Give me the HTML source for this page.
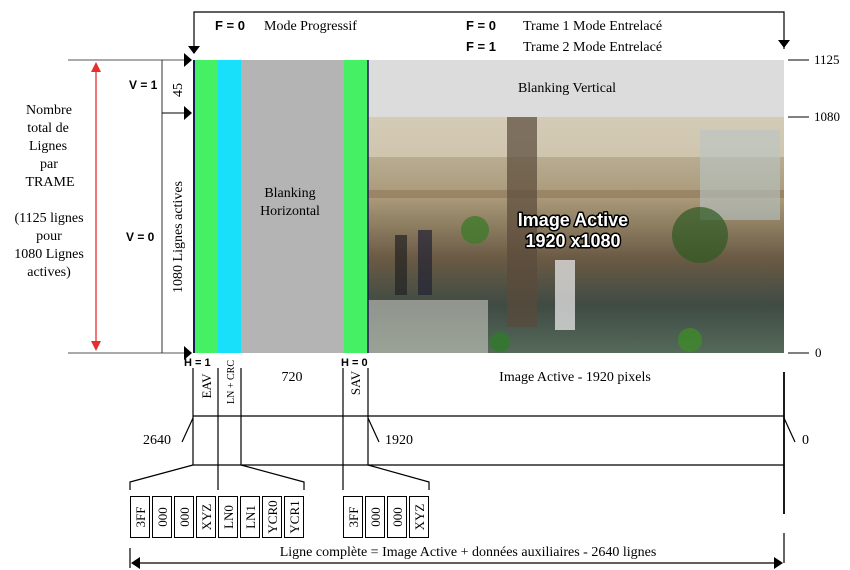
<!DOCTYPE html>
<html><head><meta charset="utf-8"><style>
html,body{margin:0;padding:0;background:#fff;}
svg{display:block;}
.t{font-family:"Liberation Serif",serif;font-size:14px;fill:#000;}
.s{font-family:"Liberation Serif",serif;font-size:13px;fill:#000;}
.b{font-family:"Liberation Sans",sans-serif;font-weight:bold;font-size:12px;fill:#000;}
.il{font-family:"Liberation Sans",sans-serif;font-weight:bold;font-size:18px;fill:#fff;stroke:#000;stroke-width:3;paint-order:stroke;stroke-linejoin:round;}
</style></head><body>
<svg width="850" height="570" viewBox="0 0 850 570" xmlns="http://www.w3.org/2000/svg">
<defs>
<linearGradient id="img" x1="0" y1="0" x2="0" y2="1">
<stop offset="0" stop-color="#c9bfa8"/><stop offset="0.35" stop-color="#a89878"/>
<stop offset="0.6" stop-color="#6a5a44"/><stop offset="0.8" stop-color="#3f4b44"/><stop offset="1" stop-color="#556a5a"/>
</linearGradient>
</defs>
<polyline points="194,49 194,12 784,12 784,49" fill="none" stroke="#000" stroke-width="1.2"/>
<polygon points="188,46 200,46 194,54" fill="#000"/>
<polygon points="778,40 790,40 784,48" fill="#000"/>
<text class="b" x="215" y="30" style="font-size:13px">F = 0</text>
<text class="t" x="264" y="30">Mode Progressif</text>
<text class="b" x="466" y="30" style="font-size:13px">F = 0</text>
<text class="t" x="523" y="30">Trame 1 Mode Entrelacé</text>
<text class="b" x="466" y="51" style="font-size:13px">F = 1</text>
<text class="t" x="523" y="51">Trame 2 Mode Entrelacé</text>

<rect x="194" y="60" width="24" height="293" fill="#46f064"/>
<rect x="218" y="60" width="23" height="293" fill="#18e0fa"/>
<rect x="241" y="60" width="103" height="293" fill="#b3b4b3"/>
<rect x="344" y="60" width="24" height="293" fill="#46f064"/>
<rect x="368" y="60" width="416" height="57" fill="#dcdcdc"/>
<rect x="368" y="117" width="416" height="236" fill="url(#img)"/>
<rect x="368" y="117" width="416" height="40" fill="#d8d0bc" opacity="0.7"/>
<rect x="368" y="190" width="416" height="8" fill="#8a7050" opacity="0.5"/>
<rect x="507" y="117" width="30" height="210" fill="#5a4a3a" opacity="0.7"/>
<rect x="700" y="130" width="80" height="90" fill="#b8c4c4" opacity="0.6"/>
<rect x="368" y="300" width="120" height="53" fill="#c8c8c0" opacity="0.6"/>
<rect x="395" y="235" width="12" height="60" fill="#222" opacity="0.7"/>
<rect x="418" y="230" width="14" height="65" fill="#223" opacity="0.7"/>
<circle cx="475" cy="230" r="14" fill="#3f7a2a" opacity="0.8"/>
<circle cx="700" cy="235" r="28" fill="#2f5a22" opacity="0.7"/>
<circle cx="500" cy="342" r="10" fill="#2f7a2a" opacity="0.8"/>
<circle cx="690" cy="340" r="12" fill="#3f8a2a" opacity="0.8"/>
<rect x="555" y="260" width="20" height="70" fill="#ddd" opacity="0.8"/>
<line x1="194" y1="60" x2="194" y2="353" stroke="#1a1a50" stroke-width="2"/>
<line x1="368" y1="60" x2="368" y2="353" stroke="#1a1a50" stroke-width="1.5"/>
<text class="t" x="290" y="197" text-anchor="middle">Blanking</text>
<text class="t" x="290" y="215" text-anchor="middle">Horizontal</text>
<text class="t" x="567" y="92" text-anchor="middle">Blanking  Vertical</text>
<text class="il" x="573" y="226" text-anchor="middle">Image Active</text>
<text class="il" x="573" y="247" text-anchor="middle">1920 x1080</text>

<line x1="68" y1="60" x2="186" y2="60" stroke="#555" stroke-width="1"/>
<polygon points="184,53 192,60 184,67" fill="#000"/>
<line x1="68" y1="353" x2="186" y2="353" stroke="#555" stroke-width="1"/>
<polygon points="184,346 192,353 184,360" fill="#000"/>
<line x1="162" y1="60" x2="162" y2="353" stroke="#333" stroke-width="1"/>
<line x1="162" y1="113" x2="186" y2="113" stroke="#000" stroke-width="1"/>
<polygon points="184,106 192,113 184,120" fill="#000"/>
<line x1="96" y1="68" x2="96" y2="346" stroke="#e53030" stroke-width="1.3"/>
<polygon points="91,72 101,72 96,62" fill="#e53030"/>
<polygon points="91,341 101,341 96,351" fill="#e53030"/>
<text class="b" x="129" y="89">V = 1</text>
<text class="b" x="126" y="241">V = 0</text>
<text class="t" transform="translate(182,90) rotate(-90)" text-anchor="middle">45</text>
<text class="t" transform="translate(182,237) rotate(-90)" text-anchor="middle">1080 Lignes actives</text>
<text class="t" x="49" y="114" text-anchor="middle">Nombre</text>
<text class="t" x="48" y="132" text-anchor="middle">total de</text>
<text class="t" x="48" y="150" text-anchor="middle">Lignes</text>
<text class="t" x="49" y="168" text-anchor="middle">par</text>
<text class="t" x="50" y="186" text-anchor="middle">TRAME</text>
<text class="t" x="49" y="222" text-anchor="middle">(1125 lignes</text>
<text class="t" x="49" y="240" text-anchor="middle">pour</text>
<text class="t" x="49" y="258" text-anchor="middle">1080 Lignes</text>
<text class="t" x="49" y="276" text-anchor="middle">actives)</text>

<line x1="788" y1="60" x2="809" y2="60" stroke="#000"/>
<text class="s" x="814" y="64">1125</text>
<line x1="788" y1="117" x2="809" y2="117" stroke="#000"/>
<text class="s" x="814" y="121">1080</text>
<line x1="788" y1="353" x2="809" y2="353" stroke="#000"/>
<text class="s" x="815" y="357">0</text>

<text class="b" x="184" y="366" style="font-size:11px">H = 1</text>
<text class="b" x="341" y="366" style="font-size:11px">H = 0</text>
<g stroke="#000" stroke-width="1.2" fill="none">
<line x1="193" y1="368" x2="193" y2="465"/>
<line x1="218" y1="368" x2="218" y2="490"/>
<line x1="241" y1="368" x2="241" y2="465"/>
<line x1="343" y1="368" x2="343" y2="490"/>
<line x1="368" y1="368" x2="368" y2="465"/>
<line x1="193" y1="416" x2="784" y2="416"/>
<line x1="193" y1="465" x2="784" y2="465"/>
<line x1="784" y1="372" x2="784" y2="514" stroke-width="1.8"/>
<line x1="193" y1="418" x2="182" y2="442"/>
<line x1="368" y1="418" x2="379" y2="442"/>
<line x1="784" y1="418" x2="795" y2="442"/>
<polyline points="130,490 130,482 193,465"/>
<polyline points="241,465 304,482 304,490"/>
<polyline points="368,465 429,482 429,490"/>
</g>
<text class="t" x="143" y="444">2640</text>
<text class="t" x="385" y="444">1920</text>
<text class="t" x="802" y="444">0</text>
<text class="s" transform="translate(211,386) rotate(-90)" text-anchor="middle">EAV</text>
<text class="s" transform="translate(234,382) rotate(-90)" text-anchor="middle" style="font-size:10px">LN + CRC</text>
<text class="t" x="292" y="381" text-anchor="middle">720</text>
<text class="s" transform="translate(360,383) rotate(-90)" text-anchor="middle">SAV</text>
<text class="t" x="575" y="381" text-anchor="middle">Image Active - 1920 pixels</text>

<g fill="none" stroke="#000" stroke-width="1">
<rect x="130.5" y="496.5" width="19" height="41"/>
<rect x="152.5" y="496.5" width="19" height="41"/>
<rect x="174.5" y="496.5" width="19" height="41"/>
<rect x="196.5" y="496.5" width="19" height="41"/>
<rect x="218.5" y="496.5" width="19" height="41"/>
<rect x="240.5" y="496.5" width="19" height="41"/>
<rect x="262.5" y="496.5" width="19" height="41"/>
<rect x="284.5" y="496.5" width="19" height="41"/>
<rect x="343.5" y="496.5" width="19" height="41"/>
<rect x="365.5" y="496.5" width="19" height="41"/>
<rect x="387.5" y="496.5" width="19" height="41"/>
<rect x="409.5" y="496.5" width="19" height="41"/>
</g>
<text class="s" transform="translate(145,517) rotate(-90)" text-anchor="middle">3FF</text>
<text class="s" transform="translate(167,517) rotate(-90)" text-anchor="middle">000</text>
<text class="s" transform="translate(189,517) rotate(-90)" text-anchor="middle">000</text>
<text class="s" transform="translate(211,517) rotate(-90)" text-anchor="middle">XYZ</text>
<text class="s" transform="translate(233,517) rotate(-90)" text-anchor="middle">LN0</text>
<text class="s" transform="translate(255,517) rotate(-90)" text-anchor="middle">LN1</text>
<text class="s" transform="translate(277,517) rotate(-90)" text-anchor="middle">YCR0</text>
<text class="s" transform="translate(299,517) rotate(-90)" text-anchor="middle">YCR1</text>
<text class="s" transform="translate(358,517) rotate(-90)" text-anchor="middle">3FF</text>
<text class="s" transform="translate(380,517) rotate(-90)" text-anchor="middle">000</text>
<text class="s" transform="translate(402,517) rotate(-90)" text-anchor="middle">000</text>
<text class="s" transform="translate(424,517) rotate(-90)" text-anchor="middle">XYZ</text>

<g stroke="#000" stroke-width="1.2">
<line x1="130" y1="548" x2="130" y2="568"/>
<line x1="784" y1="533" x2="784" y2="563"/>
<line x1="136" y1="563" x2="778" y2="563"/>
</g>
<polygon points="131,563 140,557 140,569" fill="#000"/>
<polygon points="783,563 774,557 774,569" fill="#000"/>
<text class="t" x="468" y="556" text-anchor="middle">Ligne complète = Image Active + données auxiliaires  - 2640 lignes</text>
</svg>
</body></html>
